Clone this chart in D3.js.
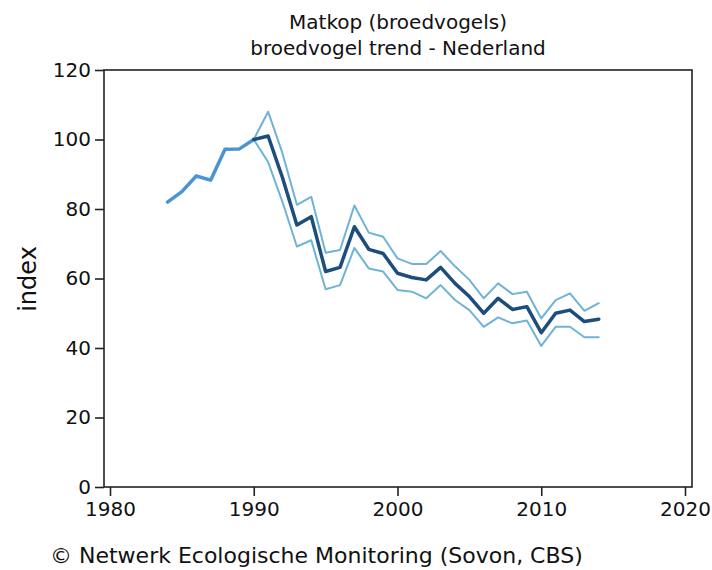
<!DOCTYPE html>
<html>
<head>
<meta charset="utf-8">
<script src="https://cdn.jsdelivr.net/npm/d3@7"></script>
<style>
  html, body { margin: 0; padding: 0; background: #fff; }
  svg { display: block; }
  text { font-family: "DejaVu Sans", Verdana, sans-serif; fill: #111; }
</style>
</head>
<body>
<svg id="chart" width="712" height="570"></svg>
<script>
const titleLines = ["Matkop (broedvogels)", "broedvogel trend - Nederland"];
const yLabel = "index";
const footer = "\u00A9 Netwerk Ecologische Monitoring (Sovon, CBS)";

const earlyYears = [1984, 1985, 1986, 1987, 1988, 1989, 1990];
const earlyIndex = [82, 85, 89.5, 88.3, 97.2, 97.3, 100];

const trendYears = [1990, 1991, 1992, 1993, 1994, 1995, 1996, 1997, 1998, 1999, 2000,
  2001, 2002, 2003, 2004, 2005, 2006, 2007, 2008, 2009, 2010, 2011, 2012, 2013, 2014];
const trendIndex = [100, 101, 89, 75.4, 77.8, 62, 63.2, 74.9, 68.4, 67.2, 61.5,
  60.3, 59.6, 63.2, 58.6, 54.8, 50, 54.3, 51.1, 51.9, 44.4, 50, 50.9, 47.6, 48.3];
const upperIndex = [100, 108, 96, 81.2, 83.5, 67.4, 68.2, 81, 73.2, 72, 65.8,
  64.2, 64.2, 67.9, 63.5, 59.6, 54.3, 58.6, 55.5, 56.2, 48.5, 53.8, 55.7, 50.7, 52.9];
const lowerIndex = [100, 93.5, 82, 69.2, 71, 56.9, 58.1, 68.8, 62.9, 62, 56.7,
  56.2, 54.3, 58.1, 53.8, 50.9, 46.1, 48.8, 47.1, 47.9, 40.6, 46.1, 46.1, 43.1, 43.1];

const xTicks = [1980, 1990, 2000, 2010, 2020];
const yTicks = [0, 20, 40, 60, 80, 100, 120];

const svg = d3.select("#chart");
const pLeft = 104, pRight = 692, pTop = 70, pBottom = 487;

// x: 1980 -> 110, 2020 -> 685
const x = d3.scaleLinear().domain([1980, 2020]).range([110, 685]);
const y = d3.scaleLinear().domain([0, 120]).range([pBottom, pTop]);

// frame
svg.append("rect")
  .attr("x", pLeft).attr("y", pTop)
  .attr("width", pRight - pLeft).attr("height", pBottom - pTop)
  .attr("fill", "none").attr("stroke", "#222").attr("stroke-width", 1.6);

// y axis
const yAxis = svg.append("g").attr("transform", `translate(${pLeft},0)`)
  .call(d3.axisLeft(y).tickValues(yTicks).tickSize(9).tickPadding(4).tickFormat(d3.format("d")));
yAxis.select(".domain").remove();
yAxis.selectAll("line").attr("stroke", "#222").attr("stroke-width", 1.6);
yAxis.selectAll("text").style("font-size", "20px").attr("fill", "#111");

// x axis
const xAxis = svg.append("g").attr("transform", `translate(0,${pBottom})`)
  .call(d3.axisBottom(x).tickValues(xTicks).tickSize(9).tickPadding(6).tickFormat(d3.format("d")));
xAxis.select(".domain").remove();
xAxis.selectAll("line").attr("stroke", "#222").attr("stroke-width", 1.6);
xAxis.selectAll("text").style("font-size", "20px").attr("fill", "#111");

// lines
const line = d3.line().x(d => x(d[0])).y(d => y(d[1]));
function path(xs, ys, color, w) {
  svg.append("path")
    .datum(xs.map((v, i) => [v, ys[i]]))
    .attr("d", line)
    .attr("fill", "none")
    .attr("stroke", color)
    .attr("stroke-width", w)
    .attr("stroke-linejoin", "round")
    .attr("stroke-linecap", "round");
}
path(trendYears, upperIndex, "#6fb3d6", 2);
path(trendYears, lowerIndex, "#6fb3d6", 2);
path(earlyYears, earlyIndex, "#4b93d3", 3.5);
path(trendYears, trendIndex, "#1b4e7c", 3.5);

// title
svg.selectAll(".title").data(titleLines).enter().append("text")
  .attr("x", 398).attr("y", (d, i) => 29 + i * 26)
  .attr("text-anchor", "middle")
  .style("font-size", "20px")
  .attr("fill", "#222")
  .text(d => d);

// y label
svg.append("text")
  .attr("transform", "translate(36,279) rotate(-90)")
  .attr("text-anchor", "middle")
  .style("font-size", "24px")
  .attr("fill", "#333")
  .text(yLabel);

// footer
svg.append("text")
  .attr("x", 50).attr("y", 563)
  .style("font-size", "22px")
  .attr("fill", "#222")
  .text(footer);
</script>
</body>
</html>
